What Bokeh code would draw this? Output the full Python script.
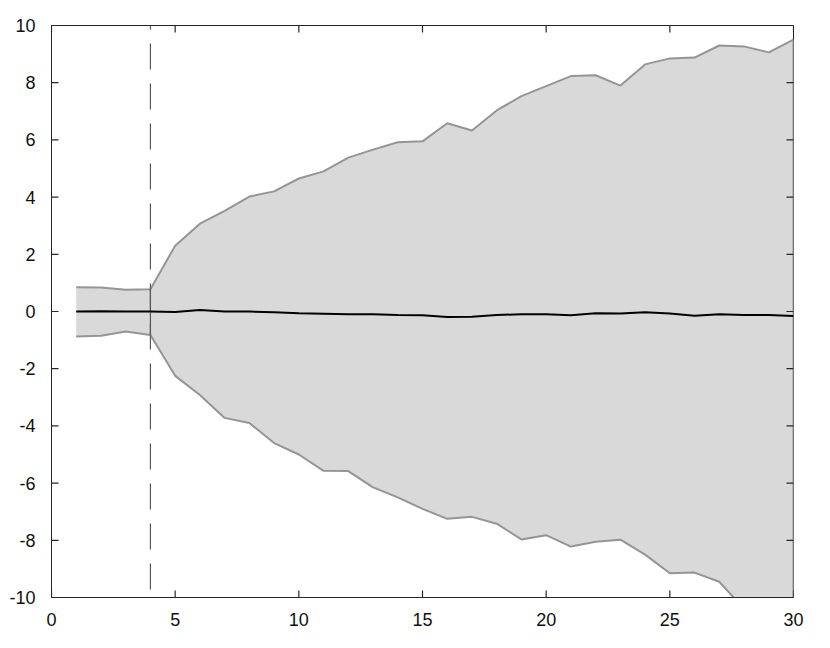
from bokeh.plotting import figure
from bokeh.models import Range1d, FixedTicker, Span
from bokeh.embed import file_html
from bokeh.resources import INLINE

# ---- data ----
steps = list(range(1, 31))
upper = [0.85, 0.84, 0.76, 0.78, 2.30, 3.07, 3.52, 4.02, 4.20, 4.65,
         4.90, 5.38, 5.66, 5.92, 5.95, 6.58, 6.33, 7.03, 7.53, 7.88,
         8.23, 8.26, 7.90, 8.64, 8.85, 8.88, 9.30, 9.27, 9.06, 9.51]
lower = [-0.87, -0.85, -0.70, -0.82, -2.25, -2.92, -3.72, -3.90, -4.60, -5.00,
         -5.57, -5.58, -6.15, -6.50, -6.90, -7.25, -7.18, -7.42, -7.97, -7.82,
         -8.22, -8.05, -7.98, -8.50, -9.15, -9.13, -9.45, -10.40, -10.70, -10.90]
mean = [0.00, 0.01, 0.00, 0.00, -0.02, 0.05, 0.00, 0.00, -0.03, -0.06,
        -0.08, -0.10, -0.10, -0.12, -0.13, -0.19, -0.18, -0.12, -0.10, -0.10,
        -0.13, -0.06, -0.07, -0.03, -0.07, -0.15, -0.10, -0.12, -0.12, -0.16]
split_x = 4
x_ticks = [0, 5, 10, 15, 20, 25, 30]
y_ticks = [-10, -8, -6, -4, -2, 0, 2, 4, 6, 8, 10]
x_min, x_max = 0, 30
y_min, y_max = -10, 10

AX = "#262626"
FONT = "Liberation Sans"

W, H = 830, 645
BL, BR, BT, BB = 51, 37, 25, 48

p = figure(width=W, height=H, output_backend="svg", toolbar_location=None,
           x_range=Range1d(x_min, x_max), y_range=Range1d(y_min, y_max),
           min_border_left=BL, min_border_right=BR, min_border_top=BT,
           min_border_bottom=BB)
p.xgrid.visible = False
p.ygrid.visible = False
p.outline_line_color = AX
p.outline_line_width = 1
p.background_fill_color = "white"

# band
p.varea(x=steps, y1=lower, y2=upper, fill_color="#d9d9d9")
p.line(steps, upper, line_color="#959595", line_width=2)
p.line(steps, lower, line_color="#959595", line_width=2)
i4 = steps.index(split_x)
p.segment(x0=[split_x], y0=[lower[i4]], x1=[split_x], y1=[upper[i4]],
          line_color="#555555", line_width=1.2)
p.segment(x0=[steps[-1]], y0=[lower[-1]], x1=[steps[-1]], y1=[upper[-1]],
          line_color="#959595", line_width=2)

# mean
p.line(steps, mean, line_color="black", line_width=2)

# dashed vertical
p.add_layout(Span(location=split_x, dimension="height", line_color="#555555",
                  line_width=1.2, line_dash="26 14", line_dash_offset=22))

# inward ticks on all four sides: tick length of 7 px converted to data units
TL_PX = 7
dx = TL_PX * (x_max - x_min) / (W - BL - BR)
dy = TL_PX * (y_max - y_min) / (H - BT - BB)
nx, ny = len(x_ticks), len(y_ticks)
tick_style = dict(line_color=AX, line_width=1.2)
p.segment(x0=x_ticks, y0=[y_min] * nx, x1=x_ticks, y1=[y_min + dy] * nx, **tick_style)
p.segment(x0=x_ticks, y0=[y_max] * nx, x1=x_ticks, y1=[y_max - dy] * nx, **tick_style)
p.segment(x0=[x_min] * ny, y0=y_ticks, x1=[x_min + dx] * ny, y1=y_ticks, **tick_style)
p.segment(x0=[x_max] * ny, y0=y_ticks, x1=[x_max - dx] * ny, y1=y_ticks, **tick_style)

for ax in (p.xaxis[0], p.yaxis[0]):
    ax.axis_line_color = AX
    ax.major_tick_line_color = None
    ax.minor_tick_line_color = None
    ax.major_label_text_font = FONT
    ax.major_label_text_font_size = "18px"
    ax.major_label_text_color = "#111111"

p.xaxis.ticker = FixedTicker(ticks=x_ticks)
p.yaxis.ticker = FixedTicker(ticks=y_ticks)
p.xaxis.major_label_overrides = {t: str(t) for t in x_ticks}
p.yaxis.major_label_overrides = {t: str(t) for t in y_ticks}
p.xaxis.major_label_standoff = 9
p.yaxis.major_label_standoff = 10

open("out.html", "w").write(file_html(p, INLINE))
